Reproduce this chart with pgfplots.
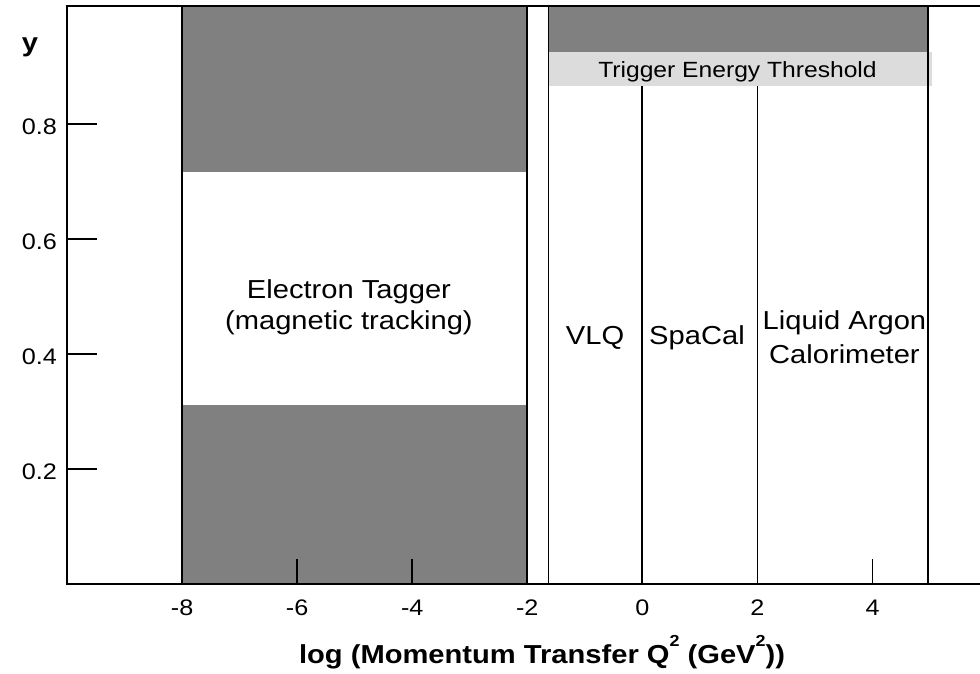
\documentclass[border=0pt]{standalone}
\usepackage{fontspec}
\setmainfont{Liberation Sans}[FakeStretch=1.12]
\usepackage{pgfplots}
\pgfplotsset{compat=1.18}
\definecolor{darkband}{HTML}{808080}
\definecolor{lightband}{HTML}{DCDCDC}
\begin{document}
\begin{tikzpicture}
\useasboundingbox (-67pt,-89pt) rectangle (913pt,584pt);
\begin{axis}[
  at={(0pt,0pt)}, anchor=south west,
  scale only axis, width=916pt, height=578pt,
  xmin=-10, xmax=5.92, ymin=0, ymax=1.005,
  axis on top,
  axis line style={line width=1.8pt},
  xtick={-8,-6,-4,-2,0,2,4},
  xticklabels={-8,-6,-4,-2,0,2,4},
  ytick={0.2,0.4,0.6,0.8},
  yticklabels={0.2,0.4,0.6,0.8},
  tick align=inside,
  xtick pos=bottom, ytick pos=left,
  xtick style={line width=1.8pt, black, /pgfplots/major tick length=25pt},
  ytick style={line width=1.8pt, black, /pgfplots/major tick length=30pt},
  xticklabel style={font=\fontsize{22.5}{26}\selectfont, anchor=north, inner sep=0pt, yshift=-16pt},
  yticklabel style={font=\fontsize{22.5}{26}\selectfont, anchor=east, inner sep=0pt, xshift=-10pt, yshift=-3pt},
  xlabel={\textbf{log (Momentum Transfer Q\raisebox{0.62em}{\fontsize{16}{16}\selectfont 2} (GeV\raisebox{0.62em}{\fontsize{16}{16}\selectfont 2}))}},
  every axis x label/.style={at={(rel axis cs:0.5186,0)}, anchor=base, yshift=-79pt, font=\fontsize{26}{30}\selectfont},
  ylabel={\textbf{y}},
  every axis y label/.style={at={(rel axis cs:0,1)}, anchor=base, xshift=-37pt, yshift=-46pt, font=\fontsize{26}{30}\selectfont},
]
% shaded regions
\addplot[draw=none, fill=darkband] coordinates {(-8,0.717) (-2,0.717) (-2,1.005) (-8,1.005)} -- cycle;
\addplot[draw=none, fill=darkband] coordinates {(-8,0) (-2,0) (-2,0.311) (-8,0.311)} -- cycle;
\addplot[draw=none, fill=darkband] coordinates {(-1.63,0.925) (4.97,0.925) (4.97,1.005) (-1.63,1.005)} -- cycle;
\addplot[draw=none, fill=lightband] coordinates {(-1.63,0.866) (5.03,0.866) (5.03,0.925) (-1.63,0.925)} -- cycle;
% boundaries
\addplot[black, line width=2pt] coordinates {(-8,0) (-8,1.005)};
\addplot[black, line width=2pt] coordinates {(-2,0) (-2,1.005)};
\addplot[black, line width=1.8pt] coordinates {(-1.63,0) (-1.63,1.005)};
\addplot[black, line width=1.8pt] coordinates {(4.97,0) (4.97,1.005)};
\addplot[black, line width=1.8pt] coordinates {(0,0) (0,0.866)};
\addplot[black, line width=1.8pt] coordinates {(2,0) (2,0.866)};
% labels
\node[anchor=base, font=\fontsize{26}{30}\selectfont] at (axis cs:-5.1,0.497) {Electron Tagger};
\node[anchor=base, font=\fontsize{26}{30}\selectfont] at (axis cs:-5.1,0.443) {(magnetic tracking)};
\node[anchor=base, font=\fontsize{26}{30}\selectfont] at (axis cs:-0.823,0.4157) {VLQ};
\node[anchor=base, font=\fontsize{26}{30}\selectfont] at (axis cs:0.949,0.4157) {SpaCal};
\node[anchor=base, font=\fontsize{26}{30}\selectfont] at (axis cs:3.512,0.443) {Liquid Argon};
\node[anchor=base, font=\fontsize{26}{30}\selectfont] at (axis cs:3.512,0.384) {Calorimeter};
\node[anchor=base, font=\fontsize{22}{25}\selectfont] at (axis cs:1.653,0.880) {Trigger Energy Threshold};
\end{axis}
\end{tikzpicture}
\end{document}
